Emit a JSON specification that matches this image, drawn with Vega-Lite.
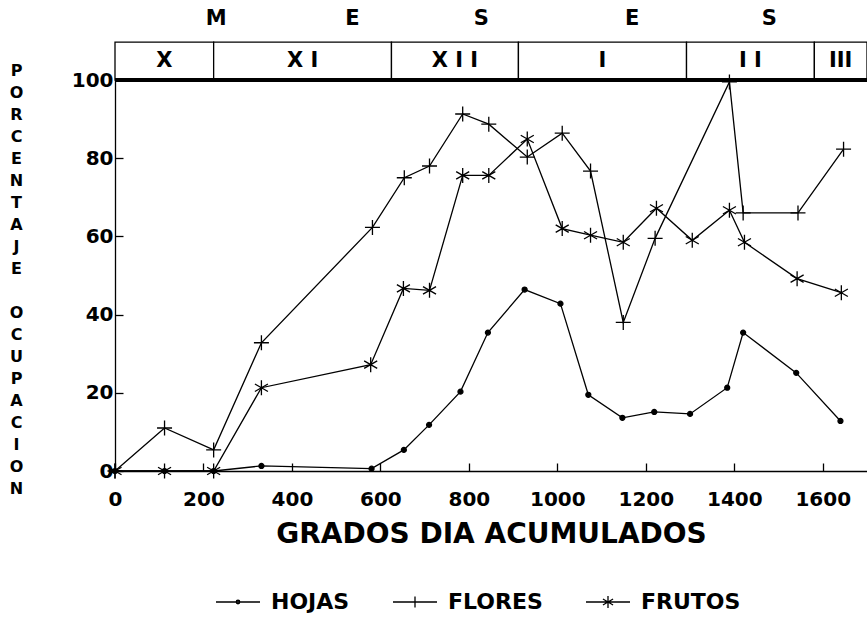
{
  "$schema": "https://vega.github.io/schema/vega-lite/v6.json",
  "width": 752,
  "height": 391,
  "autosize": {"type": "none"},
  "padding": {"left": 115, "top": 80, "right": 0, "bottom": 147},
  "background": "white",
  "config": {
    "view": {"stroke": null},
    "font": "DejaVu Sans",
    "axis": {"domainColor": "black", "tickColor": "black", "labelColor": "black", "titleColor": "black", "grid": false, "domainWidth": 1.3, "tickWidth": 1.3}
  },
  "resolve": {"scale": {"shape": "independent"}},
  "datasets": {
    "series": [
      {"serie": "HOJAS", "gd": 0, "pct": 0},
      {"serie": "HOJAS", "gd": 112, "pct": 0},
      {"serie": "HOJAS", "gd": 223, "pct": 0},
      {"serie": "HOJAS", "gd": 331, "pct": 1.3},
      {"serie": "HOJAS", "gd": 580, "pct": 0.6},
      {"serie": "HOJAS", "gd": 653, "pct": 5.4},
      {"serie": "HOJAS", "gd": 710, "pct": 11.8},
      {"serie": "HOJAS", "gd": 781, "pct": 20.3},
      {"serie": "HOJAS", "gd": 843, "pct": 35.4},
      {"serie": "HOJAS", "gd": 926, "pct": 46.4},
      {"serie": "HOJAS", "gd": 1007, "pct": 42.8},
      {"serie": "HOJAS", "gd": 1070, "pct": 19.5},
      {"serie": "HOJAS", "gd": 1147, "pct": 13.6},
      {"serie": "HOJAS", "gd": 1219, "pct": 15.1},
      {"serie": "HOJAS", "gd": 1300, "pct": 14.6},
      {"serie": "HOJAS", "gd": 1384, "pct": 21.3},
      {"serie": "HOJAS", "gd": 1420, "pct": 35.4},
      {"serie": "HOJAS", "gd": 1540, "pct": 25.1},
      {"serie": "HOJAS", "gd": 1640, "pct": 12.8},
      {"serie": "FLORES", "gd": 0, "pct": 0},
      {"serie": "FLORES", "gd": 112, "pct": 11},
      {"serie": "FLORES", "gd": 223, "pct": 5.4},
      {"serie": "FLORES", "gd": 331, "pct": 32.8},
      {"serie": "FLORES", "gd": 582, "pct": 62.3},
      {"serie": "FLORES", "gd": 654, "pct": 75},
      {"serie": "FLORES", "gd": 711, "pct": 78},
      {"serie": "FLORES", "gd": 786, "pct": 91.3},
      {"serie": "FLORES", "gd": 845, "pct": 88.7},
      {"serie": "FLORES", "gd": 932, "pct": 80.3},
      {"serie": "FLORES", "gd": 1011, "pct": 86.4},
      {"serie": "FLORES", "gd": 1075, "pct": 76.7},
      {"serie": "FLORES", "gd": 1149, "pct": 38},
      {"serie": "FLORES", "gd": 1221, "pct": 59.5},
      {"serie": "FLORES", "gd": 1389, "pct": 99.5},
      {"serie": "FLORES", "gd": 1420, "pct": 66},
      {"serie": "FLORES", "gd": 1544, "pct": 66},
      {"serie": "FLORES", "gd": 1647, "pct": 82.3},
      {"serie": "FRUTOS", "gd": 0, "pct": 0},
      {"serie": "FRUTOS", "gd": 112, "pct": 0},
      {"serie": "FRUTOS", "gd": 223, "pct": 0},
      {"serie": "FRUTOS", "gd": 331, "pct": 21.3},
      {"serie": "FRUTOS", "gd": 578, "pct": 27.2},
      {"serie": "FRUTOS", "gd": 652, "pct": 46.7},
      {"serie": "FRUTOS", "gd": 711, "pct": 46.2},
      {"serie": "FRUTOS", "gd": 786, "pct": 75.6},
      {"serie": "FRUTOS", "gd": 845, "pct": 75.6},
      {"serie": "FRUTOS", "gd": 932, "pct": 84.9},
      {"serie": "FRUTOS", "gd": 1011, "pct": 62},
      {"serie": "FRUTOS", "gd": 1075, "pct": 60.3},
      {"serie": "FRUTOS", "gd": 1149, "pct": 58.5},
      {"serie": "FRUTOS", "gd": 1224, "pct": 67.2},
      {"serie": "FRUTOS", "gd": 1305, "pct": 59},
      {"serie": "FRUTOS", "gd": 1389, "pct": 66.7},
      {"serie": "FRUTOS", "gd": 1423, "pct": 58.5},
      {"serie": "FRUTOS", "gd": 1542, "pct": 49.2},
      {"serie": "FRUTOS", "gd": 1642, "pct": 45.6}
    ],
    "meses": [
      {"mes": "X", "inicio": 0, "fin": 223},
      {"mes": "X I", "inicio": 223, "fin": 625},
      {"mes": "X I I", "inicio": 625, "fin": 912},
      {"mes": "I", "inicio": 912, "fin": 1292},
      {"mes": "I I", "inicio": 1292, "fin": 1581},
      {"mes": "III", "inicio": 1581, "fin": 1700}
    ],
    "letras": [
      {"letra": "M", "gd": 229},
      {"letra": "E", "gd": 537},
      {"letra": "S", "gd": 828},
      {"letra": "E", "gd": 1169},
      {"letra": "S", "gd": 1479}
    ]
  },
  "layer": [
    {
      "data": {"name": "series"},
      "mark": {"type": "line", "color": "black", "strokeWidth": 1.3},
      "encoding": {
        "x": {
          "field": "gd", "type": "quantitative",
          "scale": {"domain": [0, 1700], "nice": false, "zero": false},
          "axis": {
            "values": [0, 200, 400, 600, 800, 1000, 1200, 1400, 1600],
            "format": "d",
            "title": "GRADOS DIA ACUMULADOS",
            "titleFont": "DejaVu Sans", "titleFontWeight": "bold", "titleFontSize": 28,
            "titlePadding": 11,
            "labelFont": "DejaVu Sans", "labelFontWeight": "bold", "labelFontSize": 20,
            "tickSize": -8, "labelPadding": 26, "labelFlush": false
          }
        },
        "y": {
          "field": "pct", "type": "quantitative",
          "scale": {"domain": [0, 100], "nice": false},
          "axis": {
            "values": [0, 20, 40, 60, 80, 100],
            "format": "d",
            "title": ["P", "O", "R", "C", "E", "N", "T", "A", "J", "E", "\u2800", "O", "C", "U", "P", "A", "C", "I", "O", "N"],
            "titleAngle": 0, "titleX": -99, "titleY": -10, "titleAlign": "center", "titleBaseline": "middle",
            "titleLineHeight": 22,
            "titleFont": "DejaVu Sans", "titleFontWeight": "bold", "titleFontSize": 16,
            "labelFont": "DejaVu Sans", "labelFontWeight": "bold", "labelFontSize": 20,
            "tickSize": -8, "labelPadding": 10
          }
        },
        "detail": {"field": "serie", "type": "nominal"}
      }
    },
    {
      "data": {"name": "meses"},
      "mark": {"type": "rect", "fill": "white", "stroke": "black", "strokeWidth": 1.3},
      "encoding": {
        "x": {"field": "inicio", "type": "quantitative"},
        "x2": {"field": "fin"},
        "y": {"datum": 100, "type": "quantitative"},
        "y2": {"datum": 109.7}
      }
    },
    {
      "data": {"name": "meses"},
      "transform": [{"calculate": "(datum.inicio + datum.fin) / 2", "as": "centro"}],
      "mark": {"type": "text", "font": "DejaVu Sans", "fontWeight": "bold", "fontSize": 21, "color": "black", "baseline": "middle", "align": "center"},
      "encoding": {
        "x": {"field": "centro", "type": "quantitative"},
        "y": {"datum": 104.9, "type": "quantitative"},
        "text": {"field": "mes"}
      }
    },
    {
      "data": {"name": "letras"},
      "mark": {"type": "text", "font": "DejaVu Sans", "fontWeight": "bold", "fontSize": 21, "color": "black", "baseline": "middle", "align": "center"},
      "encoding": {
        "x": {"field": "gd", "type": "quantitative"},
        "y": {"datum": 115.5, "type": "quantitative"},
        "text": {"field": "letra"}
      }
    },
    {
      "data": {"name": "series"},
      "mark": {"type": "rule", "color": "black", "strokeWidth": 2.6},
      "encoding": {"y": {"datum": 100, "type": "quantitative"}}
    },
    {
      "data": {"name": "series"},
      "mark": {"type": "point", "fill": "black", "stroke": "black", "strokeWidth": 1.3, "opacity": 1, "size": 225},
      "encoding": {
        "x": {"field": "gd", "type": "quantitative"},
        "y": {"field": "pct", "type": "quantitative"},
        "shape": {
          "field": "serie", "type": "nominal",
          "scale": {
            "domain": ["HOJAS", "FLORES", "FRUTOS"],
            "range": [
              "M-0.33,0A0.33,0.33,0,1,0,0.33,0A0.33,0.33,0,1,0,-0.33,0Z",
              "M-1,0H1M0,-1V1",
              "M0,-1V1M-0.87,-0.5L0.87,0.5M-0.87,0.5L0.87,-0.5"
            ]
          },
          "legend": null
        }
      }
    },
    {
      "data": {"name": "series"},
      "transform": [{"filter": "false"}],
      "mark": {"type": "point", "filled": false, "color": "black", "strokeWidth": 1.3, "opacity": 1, "size": 1936},
      "encoding": {
        "x": {"field": "gd", "type": "quantitative"},
        "y": {"field": "pct", "type": "quantitative"},
        "shape": {
          "field": "serie", "type": "nominal",
          "scale": {
            "domain": ["HOJAS", "FLORES", "FRUTOS"],
            "range": [
              "M-1,0H1M-0.08,0A0.08,0.08,0,1,0,0.08,0A0.08,0.08,0,1,0,-0.08,0Z",
              "M-1,0H1M0,-0.25V0.25",
              "M-1,0H1M0,-0.27V0.27M-0.23,-0.135L0.23,0.135M-0.23,0.135L0.23,-0.135"
            ]
          },
          "legend": {
            "orient": "none", "direction": "horizontal", "legendX": 100, "legendY": 499,
            "title": null, "padding": 0,
            "labelFont": "DejaVu Sans", "labelFontWeight": "bold", "labelFontSize": 22, "labelColor": "black",
            "labelOffset": 10, "columnPadding": 40,
            "symbolSize": 1936, "symbolStrokeWidth": 1.3, "symbolStrokeColor": "black", "symbolOpacity": 1
          }
        }
      }
    }
  ]
}
